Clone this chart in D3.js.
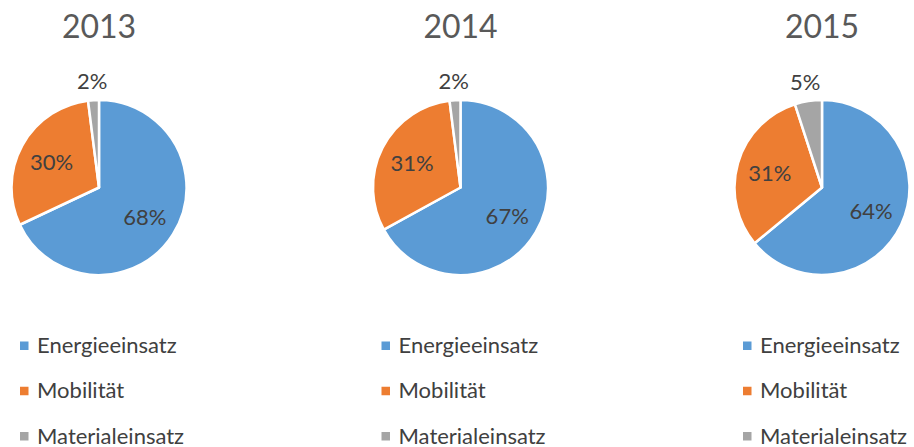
<!DOCTYPE html>
<html>
<head>
<meta charset="utf-8">
<script src="https://cdn.jsdelivr.net/npm/d3@7"></script>
<style>
  html, body { margin: 0; padding: 0; background: #fff; }
  svg { display: block; }
</style>
</head>
<body>
<svg width="914" height="447"></svg>
<script>
var years = ['2013', '2014', '2015'];
var categories = ['Energieeinsatz', 'Mobilität', 'Materialeinsatz'];
var values2013 = [68, 30, 2];
var values2014 = [67, 31, 2];
var values2015 = [64, 31, 5];
var seriesValues = [values2013, values2014, values2015];
var colors = ['#5B9BD5', '#ED7D31', '#A5A5A5'];

var fontFamily = 'Lato, "Open Sans", sans-serif';
var svg = d3.select('svg');

var colX = d3.scalePoint().domain(years).range([99, 822]);
var color = d3.scaleOrdinal().domain(categories).range(colors);
var radius = 87.5;
var cy = 187.5;

var pie = d3.pie().sort(null).value(function (d) { return d.value; });
var arc = d3.arc().innerRadius(0).outerRadius(radius);
var inner = d3.arc().innerRadius(radius * 0.62).outerRadius(radius * 0.62);
var outer = d3.arc().innerRadius(radius + 20).outerRadius(radius + 20);

years.forEach(function (year, i) {
  var data = categories.map(function (c, j) {
    return {cat: c, value: seriesValues[i][j]};
  });
  var total = d3.sum(data, function (d) { return d.value; });
  var cx = colX(year);

  svg.append('text')
     .attr('x', cx)
     .attr('y', 38)
     .attr('text-anchor', 'middle')
     .attr('font-family', fontFamily)
     .attr('font-size', '32px')
     .attr('fill', '#595959')
     .text(year);

  var g = svg.append('g').attr('transform', 'translate(' + cx + ',' + cy + ')');
  var arcs = pie(data);

  g.selectAll('path')
   .data(arcs)
   .enter().append('path')
   .attr('d', arc)
   .attr('fill', function (d) { return color(d.data.cat); })
   .attr('stroke', '#fff')
   .attr('stroke-width', 2.5)
   .attr('stroke-linejoin', 'round');

  g.selectAll('text.lbl')
   .data(arcs)
   .enter().append('text')
   .attr('class', 'lbl')
   .attr('transform', function (d) {
     var small = d.data.value / total < 0.1;
     return 'translate(' + (small ? outer : inner).centroid(d) + ')';
   })
   .attr('text-anchor', 'middle')
   .attr('dominant-baseline', 'central')
   .attr('font-family', fontFamily)
   .attr('font-size', '22px')
   .attr('fill', '#404040')
   .text(function (d) { return Math.round(d.data.value / total * 100) + '%'; });

  var legend = svg.append('g').attr('transform', 'translate(' + (cx - 79) + ',0)');
  var rowY = d3.scalePoint().domain(categories).range([345.5, 436]);

  legend.selectAll('rect')
   .data(categories)
   .enter().append('rect')
   .attr('x', 0)
   .attr('y', function (d) { return rowY(d) - 4; })
   .attr('width', 8.5)
   .attr('height', 8.5)
   .attr('fill', function (d) { return color(d); });

  legend.selectAll('text')
   .data(categories)
   .enter().append('text')
   .attr('x', 17)
   .attr('y', function (d) { return rowY(d) + 7.5; })
   .attr('font-family', fontFamily)
   .attr('font-size', '22px')
   .attr('fill', '#404040')
   .text(function (d) { return d; });
});
</script>
</body>
</html>
